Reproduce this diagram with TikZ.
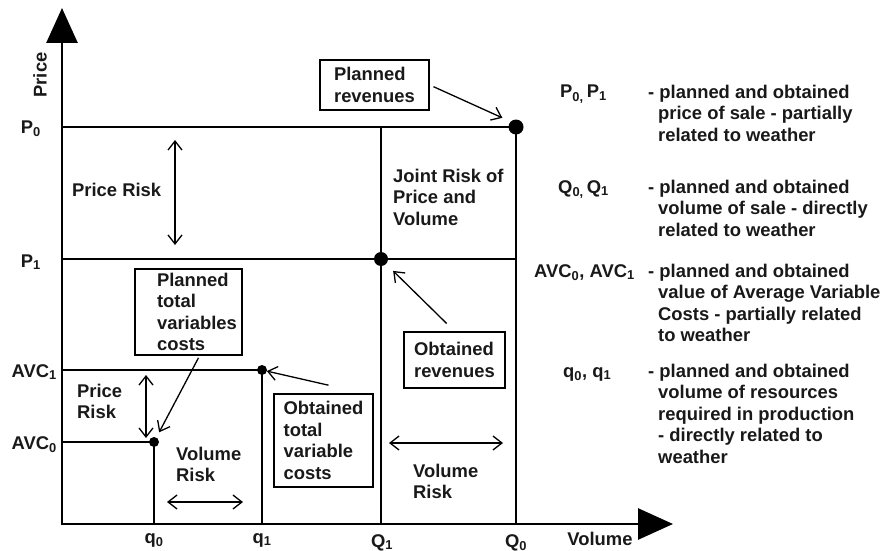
\documentclass[tikz,border=0pt]{standalone}
\usepackage{fontspec}
\setmainfont{Liberation Sans}
\usetikzlibrary{arrows.meta,calc}
\begin{document}
\begin{tikzpicture}[x=1pt,y=-1pt,
  every node/.style={font=\bfseries\fontsize{18.4}{21.5}\selectfont, text=black!90},
  axis/.style={line width=2.8pt, -{Triangle[length=35pt,width=31pt]}},
  gridline/.style={line width=2.8pt},
  ptr/.style={line width=1.3pt, -{Straight Barb[length=9pt,width=14pt]}},
  dbl/.style={line width=1.3pt, {Straight Barb[length=9pt,width=14pt]}-{Straight Barb[length=9pt,width=14pt]}},
  box/.style={draw, line width=1.6pt, inner sep=0pt, align=left},
  lbl/.style={inner sep=0pt, align=left, anchor=base west},
  bot/.style={inner sep=0pt, anchor=base},
  bigdot/.style={circle, fill=black, inner sep=0pt, minimum size=15pt},
  smalldot/.style={circle, fill=black, inner sep=0pt, minimum size=10pt}]
\useasboundingbox (0,0) rectangle (884,551);

% axes
\coordinate (O) at (62,524);
\coordinate (ytip) at (62,8);
\coordinate (xtip) at (673,524);
\draw[axis] (O) -- (ytip);
\draw[axis] ($(O)+(-1.4,0)$) -- (xtip);

% key points
\coordinate (P0L) at (62,127);
\coordinate (P1L) at (62,259);
\coordinate (A1L) at (62,370);
\coordinate (A0L) at (62,442);
\coordinate (Q1T) at (381,127);
\coordinate (Q1B) at (381,524);
\coordinate (Q0B) at (516,524);
\coordinate (P1R) at (516,259);
\coordinate (q1B) at (262,524);
\coordinate (q0B) at (154,524);
\node[bigdot] (D00) at (516,127) {};
\node[bigdot, minimum size=14pt] (D11) at (381,259) {};
\node[smalldot] (dq1) at (262,370) {};
\node[smalldot] (dq0) at (154,442) {};

% grid lines
\draw[gridline] (P0L) -- (D00.center) -- (Q0B);
\draw[gridline] (P1L) -- (P1R);
\draw[gridline] (Q1T) -- (Q1B);
\draw[gridline] (A1L) -- (dq1.center) -- (q1B);
\draw[gridline] (A0L) -- (dq0.center) -- (q0B);

% axis labels
\node[rotate=90, inner sep=0pt] (price) at (40,75) {Price};
\node[inner sep=0pt, anchor=base east] (lP0) at (41,133) {P\textsubscript{0}};
\node[inner sep=0pt, anchor=base east] (lP1) at (41,267) {P\textsubscript{1}};
\node[inner sep=0pt, anchor=base east] (lA1) at (57,377) {AVC\textsubscript{1}};
\node[inner sep=0pt, anchor=base east] (lA0) at (57,449) {AVC\textsubscript{0}};
\node[bot] (lq0) at (154,543) {q\textsubscript{0}};
\node[bot] (lq1) at (262,543) {q\textsubscript{1}};
\node[bot] (lQ1) at (382,547) {Q\textsubscript{1}};
\node[bot] (lQ0) at (516,547) {Q\textsubscript{0}};
\node[bot] (vol) at (600,545) {Volume};

% region texts (anchor = baseline of last line)
\node[lbl] (prTop) at (72,196) {Price Risk};
\node[lbl] (joint) at (393,225) {Joint Risk of\\Price and\\Volume};
\node[lbl] (prLow) at (77,418.5) {Price\\Risk};
\node[lbl] (vrLow) at (176,481.5) {Volume\\Risk};
\node[lbl] (vrRight) at (413,498.5) {Volume\\Risk};

% risk arrows
\coordinate (prA) at (175,140);
\coordinate (prB) at (175,245);
\draw[dbl] (prA) -- (prB);
\coordinate (plA) at (146,375);
\coordinate (plB) at (146,438);
\draw[dbl] (plA) -- (plB);
\coordinate (vlA) at (167,502);
\coordinate (vlB) at (243,502);
\draw[dbl] (vlA) -- (vlB);
\coordinate (vrA) at (389,443);
\coordinate (vrB) at (503,443);
\draw[dbl] (vrA) -- (vrB);

% boxes
\node[box, minimum width=109pt, minimum height=50pt] (prv) at (374.5,85) {Planned\\revenues};
\node[box, minimum width=107pt, minimum height=86pt] (ptv) at (188.5,312) {\hspace*{17pt}Planned\\\hspace*{17pt}total\\\hspace*{17pt}variables\\\hspace*{17pt}costs};
\node[box, minimum width=99pt, minimum height=93pt] (otv) at (323.5,440.5) {Obtained\\total\\variable\\costs};
\node[box, minimum width=101pt, minimum height=56pt] (orv) at (454.5,360) {Obtained\\revenues};

% pointers
\draw[ptr, shorten <=4pt, shorten >=9pt] (prv.east) -- (D00.north west);
\draw[ptr, shorten <=11pt, shorten >=17pt] (orv.north) -- (D11.center);
\draw[ptr, shorten >=5pt] ($(otv.north)+(5,-8)$) -- (dq1.center);
\draw[ptr, shorten >=11pt] ($(ptv.south)+(10,2)$) -- (dq0.center);

% legend (anchor = baseline of last line)
\node[lbl] (kP) at (560,98) {P\textsubscript{0,}\,P\textsubscript{1}};
\node[lbl] (dP) at (648,141) {- planned and obtained\\\hspace*{10pt}price of sale - partially\\\hspace*{10pt}related to weather};
\node[lbl] (kQ) at (558,193) {Q\textsubscript{0,}\,Q\textsubscript{1}};
\node[lbl] (dQ) at (648,236) {- planned and obtained\\\hspace*{10pt}volume of sale - directly\\\hspace*{10pt}related to weather};
\node[lbl] (kA) at (534,277) {AVC\textsubscript{0}, AVC\textsubscript{1}};
\node[lbl] (dA) at (648,341.5) {- planned and obtained\\\hspace*{10pt}value of Average Variable\\\hspace*{10pt}Costs - partially related\\\hspace*{10pt}to weather};
\node[lbl] (kq) at (563,377) {q\textsubscript{0}, q\textsubscript{1}};
\node[lbl] (dq) at (648,463) {- planned and obtained\\\hspace*{10pt}volume of resources\\\hspace*{10pt}required in production\\\hspace*{10pt}- directly related to\\\hspace*{10pt}weather};
\end{tikzpicture}
\end{document}
